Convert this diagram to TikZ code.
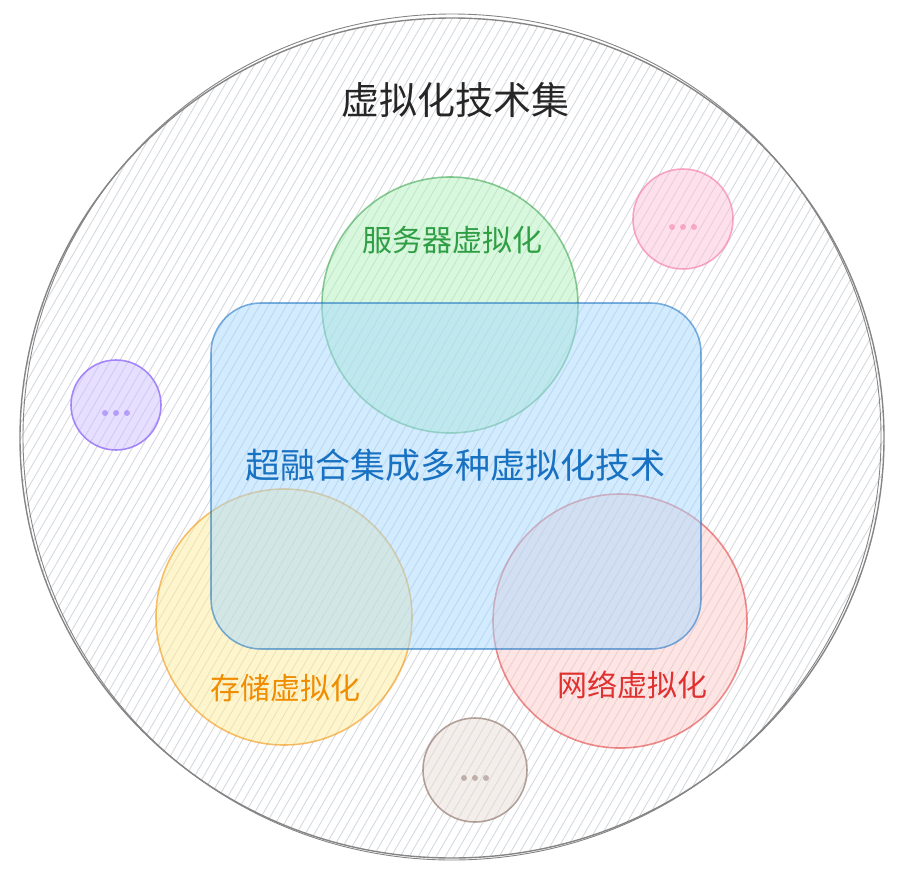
\documentclass[tikz,border=0pt]{standalone}
\usepackage{fontspec}
\setmainfont{Noto Sans CJK SC}
\usepackage{tikz}
\usetikzlibrary{shapes.geometric}
\definecolor{hatchgray}{HTML}{D4D9DE}
\definecolor{biggray}{HTML}{858585}
\definecolor{srvline}{HTML}{2F9E44}
\definecolor{srvfill}{HTML}{B2F2BB}
\definecolor{hciline}{HTML}{1971C2}
\definecolor{hcifill}{HTML}{A5D8FF}
\definecolor{stoline}{HTML}{F08C00}
\definecolor{stofill}{HTML}{FFEC99}
\definecolor{netline}{HTML}{E03131}
\definecolor{netfill}{HTML}{FFC9C9}
\definecolor{pinkline}{HTML}{F783AC}
\definecolor{pinkfill}{HTML}{FCC2D7}
\definecolor{purpline}{HTML}{9775FA}
\definecolor{purpfill}{HTML}{D0BFFF}
\definecolor{brownline}{HTML}{A08A82}
\definecolor{brownfill}{HTML}{EADDD7}

\begin{document}
\begin{tikzpicture}[x=1pt, y=-1pt,
  sketch/.style={line width=1.6pt, draw opacity=0.55, fill opacity=0.5},
  blob/.style={sketch, circle, inner sep=0pt},
  dotdot/.style={fill=#1, draw=none, circle, inner sep=0pt, minimum size=6pt, opacity=0.6}]
\useasboundingbox (0,0) rectangle (902,876);

% hatched background of the big set
\begin{scope}
  \clip (452,438) ellipse [x radius=432pt, y radius=420pt];
  \foreach \x in {-520,-511,...,910}
    \draw[hatchgray, line width=0.9pt] (\x,876) -- (\x+506,0);
\end{scope}
\node[ellipse, draw=biggray, line width=1.4pt, minimum width=864pt, minimum height=840pt] (big) at (452,438) {};
\draw[biggray, line width=0.9pt] (452,437) ellipse [x radius=429pt, y radius=423pt];

% the member sets
\node[blob, draw=srvline, fill=srvfill, minimum size=256pt] (srv) at (450,305) {};
\node[blob, draw=stoline, fill=stofill, minimum size=256pt] (sto) at (284,617) {};
\node[blob, draw=netline, fill=netfill, minimum size=254pt] (net) at (620,621) {};
\node[sketch, draw=hciline, fill=hcifill, rounded corners=50pt,
      minimum width=490pt, minimum height=346pt] (hci) at (456,476) {};
\node[blob, draw=pinkline, fill=pinkfill, draw opacity=0.7, minimum size=100pt] (more1) at (683,219) {};
\node[blob, draw=purpline, fill=purpfill, draw opacity=0.85, minimum size=90pt] (more2) at (116,405) {};
\node[blob, draw=brownline, fill=brownfill, draw opacity=0.8, minimum size=104pt] (more3) at (475,770) {};

% three dots in the small sets
\foreach \n/\c in {more1/pinkline, more2/purpline, more3/brownline}
  \foreach \d in {-11,0,11}
    \node[dotdot=\c] at ([xshift=\d pt, yshift=-8pt]\n.center) {};

% labels
\node[font=\fontsize{38}{42}\selectfont, text=black!85] (title) at (455,100) {虚拟化技术集};
\node[font=\fontsize{30}{34}\selectfont, text=srvline] (srvtxt) at (452,240) {服务器虚拟化};
\node[font=\fontsize{35}{38}\selectfont, text=hciline] (hcitxt) at (455,465) {超融合集成多种虚拟化技术};
\node[font=\fontsize{30}{34}\selectfont, text=stoline] (stotxt) at (285,688) {存储虚拟化};
\node[font=\fontsize{30}{34}\selectfont, text=netline] (nettxt) at (632,685) {网络虚拟化};
\end{tikzpicture}
\end{document}
